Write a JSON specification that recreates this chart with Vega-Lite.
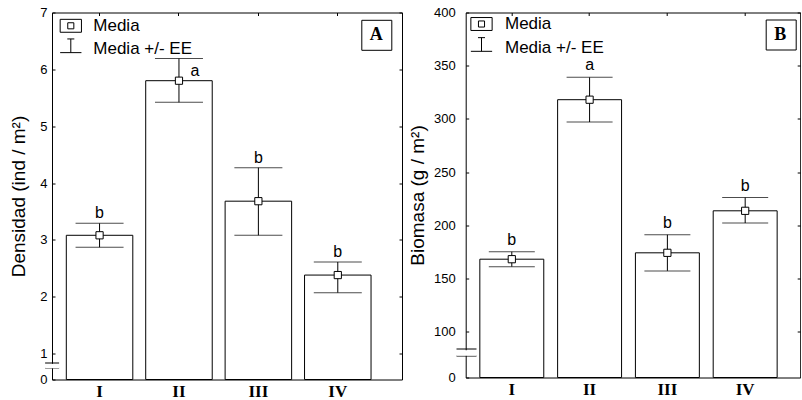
{
  "$schema": "https://vega.github.io/schema/vega-lite/v6.json",
  "padding": {"left": 9, "top": 6.5, "right": 0, "bottom": 0},
  "background": "white",
  "spacing": 4.7,
  "config": {
    "font": "Liberation Sans",
    "view": {"stroke": null},
    "axis": {"grid": false, "domainColor": "black", "tickColor": "black", "labelColor": "black", "titleColor": "black", "domainWidth": 1, "tickWidth": 1},
    "legend": {"labelColor": "black"}
  },
  "resolve": {
    "scale": {"x": "independent", "y": "independent", "shape": "independent", "color": "independent"},
    "legend": {"shape": "independent", "color": "independent"}
  },
  "hconcat": [
    {
      "width": 350,
      "height": 367,
      "data": {"values": [
        {"cat": "I", "mean": 3.08, "lo": 2.87, "hi": 3.29, "letter": "b"},
        {"cat": "II", "mean": 5.80, "lo": 5.42, "hi": 6.19, "letter": "a"},
        {"cat": "III", "mean": 3.68, "lo": 3.08, "hi": 4.27, "letter": "b"},
        {"cat": "IV", "mean": 2.38, "lo": 2.07, "hi": 2.61, "letter": "b"}
      ]},
      "resolve": {"axis": {"x": "independent", "y": "independent"}},
      "layer": [
        {
          "mark": {"type": "bar", "fill": "white", "stroke": "black", "strokeWidth": 1},
          "encoding": {
            "x": {"field": "cat", "type": "nominal", "sort": ["I", "II", "III", "IV"], "scale": {"paddingInner": 0.1625, "paddingOuter": 0.285, "align": 0.316},
                  "axis": {"orient": "bottom", "title": null, "labelAngle": 0, "labelFont": "Liberation Serif", "labelFontWeight": "bold", "labelFontSize": 17, "tickSize": -3, "labelPadding": 6.5}},
            "y": {"field": "mean", "type": "quantitative", "scale": {"domain": [0, 1, 7], "range": [367, 341, 0], "nice": false, "zero": false},
                  "axis": {"orient": "left", "values": [0, 1, 2, 3, 4, 5, 6, 7], "title": "Densidad (ind / m²)", "titleFont": "Liberation Sans", "titleFontSize": 19, "titleFontWeight": "normal", "titlePadding": 11, "labelFontSize": 13, "tickSize": -3, "labelPadding": 8}}
          }
        },
        {
          "mark": {"type": "rule", "color": "black", "strokeWidth": 1},
          "encoding": {
            "x": {"field": "cat", "type": "nominal", "sort": ["I", "II", "III", "IV"], "scale": {"paddingInner": 0.1625, "paddingOuter": 0.285, "align": 0.316},
                  "axis": {"orient": "top", "title": null, "labels": false, "tickSize": -3}},
            "y": {"field": "lo", "type": "quantitative", "scale": {"domain": [0, 1, 7], "range": [367, 341, 0], "nice": false, "zero": false},
                  "axis": {"orient": "right", "values": [1, 2, 3, 4, 5, 6, 7], "title": null, "labels": false, "tickSize": -3}},
            "y2": {"field": "hi"}
          }
        },
        {
          "mark": {"type": "tick", "orient": "horizontal", "size": 48, "thickness": 1, "color": "black"},
          "encoding": {
            "x": {"field": "cat", "type": "nominal", "sort": ["I", "II", "III", "IV"], "scale": {"paddingInner": 0.1625, "paddingOuter": 0.285, "align": 0.316}, "axis": null},
            "y": {"field": "lo", "type": "quantitative", "scale": {"domain": [0, 1, 7], "range": [367, 341, 0], "nice": false, "zero": false},
                  "axis": {"orient": "left", "values": [0.45, 0.552, 0.654], "title": null, "labels": false, "domain": false, "offset": -6.6, "tickSize": 14, "zindex": 1,
                           "tickColor": {"condition": {"test": "datum.value > 0.5 && datum.value < 0.6", "value": "white"}, "value": "black"},
                           "tickWidth": {"condition": {"test": "datum.value > 0.5 && datum.value < 0.6", "value": 4.5}, "value": 1}}}
          }
        },
        {
          "mark": {"type": "tick", "orient": "horizontal", "size": 48, "thickness": 1, "color": "black"},
          "encoding": {
            "x": {"field": "cat", "type": "nominal", "sort": ["I", "II", "III", "IV"], "scale": {"paddingInner": 0.1625, "paddingOuter": 0.285, "align": 0.316}, "axis": null},
            "y": {"field": "hi", "type": "quantitative", "scale": {"domain": [0, 1, 7], "range": [367, 341, 0], "nice": false, "zero": false}, "axis": null}
          }
        },
        {
          "mark": {"type": "point", "shape": "square", "filled": true, "fill": "white", "stroke": "black", "strokeWidth": 1, "size": 52, "opacity": 1},
          "encoding": {
            "x": {"field": "cat", "type": "nominal", "sort": ["I", "II", "III", "IV"], "scale": {"paddingInner": 0.1625, "paddingOuter": 0.285, "align": 0.316}, "axis": null},
            "y": {"field": "mean", "type": "quantitative", "scale": {"domain": [0, 1, 7], "range": [367, 341, 0], "nice": false, "zero": false}, "axis": null}
          }
        },
        {
          "transform": [{"filter": "datum.cat !== 'II'"}],
          "mark": {"type": "text", "fontSize": 16, "dy": -5, "baseline": "alphabetic", "color": "black"},
          "encoding": {
            "x": {"field": "cat", "type": "nominal", "sort": ["I", "II", "III", "IV"], "scale": {"paddingInner": 0.1625, "paddingOuter": 0.285, "align": 0.316}, "axis": null},
            "y": {"field": "hi", "type": "quantitative", "scale": {"domain": [0, 1, 7], "range": [367, 341, 0], "nice": false, "zero": false}, "axis": null},
            "text": {"field": "letter"}
          }
        },
        {
          "transform": [{"filter": "datum.cat === 'II'"}],
          "mark": {"type": "text", "fontSize": 16, "dy": 17, "dx": 16, "baseline": "alphabetic", "color": "black"},
          "encoding": {
            "x": {"field": "cat", "type": "nominal", "sort": ["I", "II", "III", "IV"], "scale": {"paddingInner": 0.1625, "paddingOuter": 0.285, "align": 0.316}, "axis": null},
            "y": {"field": "hi", "type": "quantitative", "scale": {"domain": [0, 1, 7], "range": [367, 341, 0], "nice": false, "zero": false}, "axis": null},
            "text": {"field": "letter"}
          }
        },
        {
          "mark": {"type": "point", "opacity": 0},
          "encoding": {
            "x": {"field": "cat", "type": "nominal", "sort": ["I", "II", "III", "IV"], "scale": {"paddingInner": 0.1625, "paddingOuter": 0.285, "align": 0.316}, "axis": null},
            "y": {"field": "mean", "type": "quantitative", "scale": {"domain": [0, 1, 7], "range": [367, 341, 0], "nice": false, "zero": false}, "axis": null},
            "shape": {"datum": "Media", "type": "nominal",
                      "scale": {"domain": ["Media", "Media +/- EE"], "range": ["M-1.12,-0.68H1.12V0.68H-1.12Z M-0.32,-0.32H0.32V0.32H-0.32Z", "M-0.37,-1.09H0.37 M0,-1.09V0.35 M-1.12,0.35H1.12"]},
                      "legend": {"title": null, "orient": "none", "legendX": 8.8, "legendY": 3.3, "symbolSize": 361, "symbolStrokeColor": "black", "symbolFillColor": "transparent", "symbolOpacity": 1, "symbolStrokeWidth": 1, "labelFont": "Liberation Sans", "labelFontSize": 17, "labelColor": "black", "labelOffset": 12.5, "rowPadding": 1.5, "padding": 0, "labelLimit": 300}}
          }
        },
        {
          "mark": {"type": "point", "opacity": 0},
          "encoding": {
            "x": {"field": "cat", "type": "nominal", "sort": ["I", "II", "III", "IV"], "scale": {"paddingInner": 0.1625, "paddingOuter": 0.285, "align": 0.316}, "axis": null},
            "y": {"field": "mean", "type": "quantitative", "scale": {"domain": [0, 1, 7], "range": [367, 341, 0], "nice": false, "zero": false}, "axis": null},
            "color": {"datum": "A", "type": "nominal", "scale": {"range": ["black"]},
                      "legend": {"title": null, "orient": "none", "legendX": 309.3, "legendY": 7.3, "strokeColor": "black", "fillColor": "white", "padding": 0, "symbolSize": 900, "symbolType": "square", "symbolOpacity": 0, "symbolStrokeWidth": 0, "labelOffset": -21.5, "labelFont": "Liberation Serif", "labelFontWeight": "bold", "labelFontSize": 18, "labelColor": "black"}}
          }
        }
      ]
    },
    {
      "width": 334.5,
      "height": 365,
      "data": {"values": [
        {"cat": "I", "mean": 168, "lo": 161, "hi": 175, "letter": "b"},
        {"cat": "II", "mean": 318, "lo": 297, "hi": 339, "letter": "a"},
        {"cat": "III", "mean": 174, "lo": 157, "hi": 191, "letter": "b"},
        {"cat": "IV", "mean": 213.5, "lo": 202, "hi": 226, "letter": "b"}
      ]},
      "resolve": {"axis": {"x": "independent", "y": "independent"}},
      "layer": [
        {
          "mark": {"type": "bar", "fill": "white", "stroke": "black", "strokeWidth": 1},
          "encoding": {
            "x": {"field": "cat", "type": "nominal", "sort": ["I", "II", "III", "IV"], "scale": {"paddingInner": 0.178, "paddingOuter": 0.239, "align": 0.38},
                  "axis": {"orient": "bottom", "title": null, "labelAngle": 0, "labelFont": "Liberation Serif", "labelFontWeight": "bold", "labelFontSize": 17, "tickSize": -3, "labelPadding": 6.5}},
            "y": {"field": "mean", "type": "quantitative", "scale": {"domain": [0, 100, 400], "range": [365, 319, 0], "nice": false, "zero": false},
                  "axis": {"orient": "left", "values": [0, 100, 150, 200, 250, 300, 350, 400], "title": "Biomasa (g / m²)", "titleFont": "Liberation Sans", "titleFontSize": 19, "titleFontWeight": "normal", "titlePadding": 6.2, "labelFontSize": 13, "tickSize": -3, "labelPadding": 13.4}}
          }
        },
        {
          "mark": {"type": "rule", "color": "black", "strokeWidth": 1},
          "encoding": {
            "x": {"field": "cat", "type": "nominal", "sort": ["I", "II", "III", "IV"], "scale": {"paddingInner": 0.178, "paddingOuter": 0.239, "align": 0.38},
                  "axis": {"orient": "top", "title": null, "labels": false, "tickSize": -3}},
            "y": {"field": "lo", "type": "quantitative", "scale": {"domain": [0, 100, 400], "range": [365, 319, 0], "nice": false, "zero": false},
                  "axis": {"orient": "right", "values": [100, 150, 200, 250, 300, 350, 400], "title": null, "labels": false, "tickSize": -3}},
            "y2": {"field": "hi"}
          }
        },
        {
          "mark": {"type": "tick", "orient": "horizontal", "size": 46, "thickness": 1, "color": "black"},
          "encoding": {
            "x": {"field": "cat", "type": "nominal", "sort": ["I", "II", "III", "IV"], "scale": {"paddingInner": 0.178, "paddingOuter": 0.239, "align": 0.38}, "axis": null},
            "y": {"field": "lo", "type": "quantitative", "scale": {"domain": [0, 100, 400], "range": [365, 319, 0], "nice": false, "zero": false},
                  "axis": {"orient": "left", "values": [47, 54.7, 62], "title": null, "labels": false, "domain": false, "offset": -10.3, "tickSize": 20, "zindex": 1,
                           "tickColor": {"condition": {"test": "datum.value > 50 && datum.value < 60", "value": "white"}, "value": "black"},
                           "tickWidth": {"condition": {"test": "datum.value > 50 && datum.value < 60", "value": 5.5}, "value": 1}}}
          }
        },
        {
          "mark": {"type": "tick", "orient": "horizontal", "size": 46, "thickness": 1, "color": "black"},
          "encoding": {
            "x": {"field": "cat", "type": "nominal", "sort": ["I", "II", "III", "IV"], "scale": {"paddingInner": 0.178, "paddingOuter": 0.239, "align": 0.38}, "axis": null},
            "y": {"field": "hi", "type": "quantitative", "scale": {"domain": [0, 100, 400], "range": [365, 319, 0], "nice": false, "zero": false}, "axis": null}
          }
        },
        {
          "mark": {"type": "point", "shape": "square", "filled": true, "fill": "white", "stroke": "black", "strokeWidth": 1, "size": 52, "opacity": 1},
          "encoding": {
            "x": {"field": "cat", "type": "nominal", "sort": ["I", "II", "III", "IV"], "scale": {"paddingInner": 0.178, "paddingOuter": 0.239, "align": 0.38}, "axis": null},
            "y": {"field": "mean", "type": "quantitative", "scale": {"domain": [0, 100, 400], "range": [365, 319, 0], "nice": false, "zero": false}, "axis": null}
          }
        },
        {
          "mark": {"type": "text", "fontSize": 16, "dy": -7, "baseline": "alphabetic", "color": "black"},
          "encoding": {
            "x": {"field": "cat", "type": "nominal", "sort": ["I", "II", "III", "IV"], "scale": {"paddingInner": 0.178, "paddingOuter": 0.239, "align": 0.38}, "axis": null},
            "y": {"field": "hi", "type": "quantitative", "scale": {"domain": [0, 100, 400], "range": [365, 319, 0], "nice": false, "zero": false}, "axis": null},
            "text": {"field": "letter"}
          }
        },
        {
          "mark": {"type": "point", "opacity": 0},
          "encoding": {
            "x": {"field": "cat", "type": "nominal", "sort": ["I", "II", "III", "IV"], "scale": {"paddingInner": 0.178, "paddingOuter": 0.239, "align": 0.38}, "axis": null},
            "y": {"field": "mean", "type": "quantitative", "scale": {"domain": [0, 100, 400], "range": [365, 319, 0], "nice": false, "zero": false}, "axis": null},
            "shape": {"datum": "Media", "type": "nominal",
                      "scale": {"domain": ["Media", "Media +/- EE"], "range": ["M-1.12,-0.68H1.12V0.68H-1.12Z M-0.32,-0.32H0.32V0.32H-0.32Z", "M-0.37,-1.09H0.37 M0,-1.09V0.35 M-1.12,0.35H1.12"]},
                      "legend": {"title": null, "orient": "none", "legendX": 5.8, "legendY": 1.5, "symbolSize": 361, "symbolStrokeColor": "black", "symbolFillColor": "transparent", "symbolOpacity": 1, "symbolStrokeWidth": 1, "labelFont": "Liberation Sans", "labelFontSize": 17, "labelColor": "black", "labelOffset": 13.5, "rowPadding": 2, "padding": 0, "labelLimit": 300}}
          }
        },
        {
          "mark": {"type": "point", "opacity": 0},
          "encoding": {
            "x": {"field": "cat", "type": "nominal", "sort": ["I", "II", "III", "IV"], "scale": {"paddingInner": 0.178, "paddingOuter": 0.239, "align": 0.38}, "axis": null},
            "y": {"field": "mean", "type": "quantitative", "scale": {"domain": [0, 100, 400], "range": [365, 319, 0], "nice": false, "zero": false}, "axis": null},
            "color": {"datum": "B", "type": "nominal", "scale": {"range": ["black"]},
                      "legend": {"title": null, "orient": "none", "legendX": 300, "legendY": 7, "strokeColor": "black", "fillColor": "white", "padding": 0, "symbolSize": 900, "symbolType": "square", "symbolOpacity": 0, "symbolStrokeWidth": 0, "labelOffset": -21.5, "labelFont": "Liberation Serif", "labelFontWeight": "bold", "labelFontSize": 18, "labelColor": "black"}}
          }
        }
      ]
    }
  ]
}
